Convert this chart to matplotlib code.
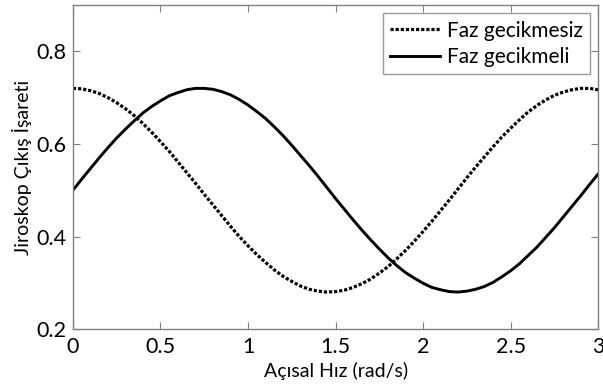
import matplotlib
matplotlib.use('Agg')
import matplotlib.pyplot as plt

# angular rate samples (rad/s) and read gyro output values
x_vals = [0.00, 0.05, 0.10, 0.15, 0.20, 0.25, 0.30, 0.35, 0.40, 0.45,
          0.50, 0.55, 0.60, 0.65, 0.70, 0.75, 0.80, 0.85, 0.90, 0.95,
          1.00, 1.05, 1.10, 1.15, 1.20, 1.25, 1.30, 1.35, 1.40, 1.45,
          1.50, 1.55, 1.60, 1.65, 1.70, 1.75, 1.80, 1.85, 1.90, 1.95,
          2.00, 2.05, 2.10, 2.15, 2.20, 2.25, 2.30, 2.35, 2.40, 2.45,
          2.50, 2.55, 2.60, 2.65, 2.70, 2.75, 2.80, 2.85, 2.90, 2.95, 3.00]

no_delay = [0.720, 0.719, 0.715, 0.709, 0.700, 0.689, 0.676, 0.661, 0.644, 0.625,
            0.605, 0.584, 0.561, 0.538, 0.515, 0.491, 0.468, 0.445, 0.422, 0.400,
            0.380, 0.361, 0.344, 0.328, 0.314, 0.303, 0.293, 0.286, 0.282, 0.280,
            0.281, 0.284, 0.290, 0.298, 0.308, 0.321, 0.335, 0.352, 0.370, 0.390,
            0.411, 0.433, 0.456, 0.479, 0.503, 0.527, 0.550, 0.572, 0.594, 0.615,
            0.634, 0.652, 0.669, 0.683, 0.695, 0.705, 0.712, 0.717, 0.720, 0.720, 0.717]

with_delay = [0.500, 0.524, 0.547, 0.570, 0.592, 0.613, 0.632, 0.650, 0.667, 0.681,
              0.693, 0.704, 0.711, 0.717, 0.720, 0.720, 0.718, 0.713, 0.706, 0.696,
              0.684, 0.670, 0.655, 0.637, 0.618, 0.597, 0.575, 0.553, 0.530, 0.506,
              0.482, 0.459, 0.436, 0.414, 0.393, 0.373, 0.354, 0.337, 0.322, 0.310,
              0.299, 0.290, 0.285, 0.281, 0.280, 0.282, 0.286, 0.292, 0.301, 0.313,
              0.326, 0.341, 0.359, 0.377, 0.398, 0.419, 0.442, 0.465, 0.488, 0.512, 0.535]

x_ticks = [0, 0.5, 1, 1.5, 2, 2.5, 3]
x_tick_labels = ['0', '0.5', '1', '1.5', '2', '2.5', '3']
y_ticks = [0.2, 0.4, 0.6, 0.8]
y_tick_labels = ['0.2', '0.4', '0.6', '0.8']

plt.rcParams['font.family'] = ['Lato', 'DejaVu Sans']

fig = plt.figure(figsize=(6.03, 3.89), dpi=100)
ax = fig.add_axes([0.121, 0.154, 0.871, 0.833])

ax.plot(x_vals, no_delay, color='black', linestyle=(0, (1, 0.6)), linewidth=2.3, label='Faz gecikmesiz')
ax.plot(x_vals, with_delay, color='black', linestyle='-', linewidth=2.1, label='Faz gecikmeli')

ax.set_xlim(0, 3)
ax.set_ylim(0.2, 0.9)
ax.set_xticks(x_ticks)
ax.set_xticklabels(x_tick_labels)
ax.set_yticks(y_ticks)
ax.set_yticklabels(y_tick_labels)

ax.tick_params(direction='in', top=True, right=True, length=5, width=0.8,
               color='#808080', labelsize=15.5)
ax.tick_params(axis='x', pad=6)
ax.tick_params(axis='y', pad=5)
for s in ax.spines.values():
    s.set_color('#808080')
    s.set_linewidth(1.0)

ax.set_xlabel('Açısal Hız (rad/s)', fontsize=14, labelpad=3)
ax.set_ylabel('Jiroskop Çıkış İşareti', fontsize=14, labelpad=3)

leg = ax.legend(loc='upper right', fontsize=15, frameon=True, fancybox=False,
                edgecolor='#808080', handlelength=2.4, borderaxespad=0.4,
                borderpad=0.35, labelspacing=0.3, handletextpad=0.3)
leg.get_frame().set_linewidth(1.0)

fig.savefig('out.png', dpi=100)
